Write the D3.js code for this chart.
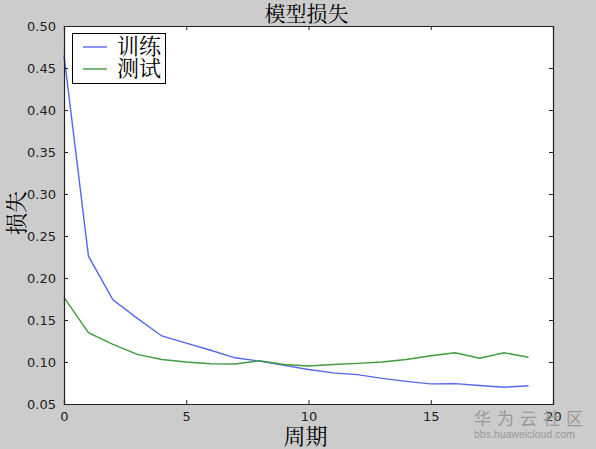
<!DOCTYPE html>
<html><head><meta charset="utf-8">
<script src="https://cdn.jsdelivr.net/npm/d3@7"></script>
<style>body{margin:0;background:#cccccc;}svg{display:block;}</style>
</head><body>
<script>
const epochs = d3.range(0, 20);
const trainLoss = [0.465, 0.226, 0.174, 0.152, 0.131, 0.1225, 0.114, 0.105, 0.101, 0.096, 0.091, 0.087, 0.085, 0.0805, 0.077, 0.074, 0.0742, 0.072, 0.070, 0.0718];
const testLoss  = [0.177, 0.135, 0.121, 0.109, 0.103, 0.100, 0.098, 0.0976, 0.1015, 0.097, 0.0952, 0.097, 0.0984, 0.100, 0.103, 0.1075, 0.111, 0.1044, 0.111, 0.1056];
const xTicks = [0, 5, 10, 15, 20];
const yTicks = [0.05, 0.10, 0.15, 0.20, 0.25, 0.30, 0.35, 0.40, 0.45, 0.50];
const seriesNames = ["训练", "测试"];
const colors = ["#5568f0", "#3f9c3f"];

const W = 596, H = 449;
const m = {left: 64, right: 596 - 553, top: 26, bottom: 449 - 404};
const svg = d3.select("body").append("svg").attr("width", W).attr("height", H);
svg.append("rect").attr("width", W).attr("height", H).attr("fill", "#cccccc");

const x = d3.scaleLinear().domain([0, 20]).range([m.left, W - m.right]);
const y = d3.scaleLinear().domain([0.05, 0.50]).range([H - m.bottom, m.top]);

svg.append("rect").attr("x", x(0)).attr("y", y(0.5)).attr("width", x(20) - x(0)).attr("height", y(0.05) - y(0.5)).attr("fill", "#fff");

const line = d3.line().x((d, i) => x(epochs[i])).y(d => y(d));
[trainLoss, testLoss].forEach((s, k) => {
  svg.append("path").datum(s).attr("d", line).attr("fill", "none").attr("stroke", colors[k]).attr("stroke-width", 1.4);
});

const font = "DejaVu Sans, sans-serif";
const tl = 4;
const gb = svg.append("g").attr("transform", `translate(0,${y(0.05)})`)
  .call(d3.axisBottom(x).tickValues(xTicks).tickFormat(d3.format("d")).tickSize(-tl).tickPadding(8));
const gt = svg.append("g").attr("transform", `translate(0,${y(0.5)})`)
  .call(d3.axisTop(x).tickValues(xTicks).tickFormat("").tickSize(-tl));
const gl = svg.append("g").attr("transform", `translate(${x(0)},0)`)
  .call(d3.axisLeft(y).tickValues(yTicks).tickFormat(d3.format(".2f")).tickSize(-tl).tickPadding(8));
const gr = svg.append("g").attr("transform", `translate(${x(20)},0)`)
  .call(d3.axisRight(y).tickValues(yTicks).tickFormat("").tickSize(-tl));
[gb, gt, gl, gr].forEach(g => {
  g.select(".domain").attr("stroke", "#222").attr("stroke-width", 1.2);
  g.selectAll(".tick line").attr("stroke", "#222");
  g.selectAll("text").attr("font-family", font).attr("font-size", 13).attr("fill", "#222");
});

const cjk = "Noto Serif CJK SC, Noto Sans CJK SC, serif";
svg.append("text").attr("x", (x(0) + x(20)) / 2 - 2).attr("y", 21).attr("text-anchor", "middle")
  .attr("font-family", cjk).attr("font-size", 21).attr("fill", "#000").text("模型损失");
svg.append("text").attr("x", (x(0) + x(20)) / 2 - 3).attr("y", 444).attr("text-anchor", "middle")
  .attr("font-family", cjk).attr("font-size", 22).attr("fill", "#000").text("周期");
svg.append("text").attr("transform", `translate(24,${(y(0.05) + y(0.5)) / 2 - 2}) rotate(-90)`).attr("text-anchor", "middle")
  .attr("font-family", cjk).attr("font-size", 22).attr("fill", "#000").text("损失");

// legend
const lg = svg.append("g");
lg.append("rect").attr("x", 72.5).attr("y", 33.5).attr("width", 93).attr("height", 50)
  .attr("fill", "#fff").attr("stroke", "#000").attr("stroke-width", 1);
seriesNames.forEach((n, i) => {
  const yy = 47 + i * 22;
  lg.append("line").attr("x1", 83).attr("x2", 107).attr("y1", yy).attr("y2", yy).attr("stroke", colors[i]).attr("stroke-width", 1.4);
  lg.append("text").attr("x", 117).attr("y", yy + 7).attr("font-family", cjk).attr("font-size", 22).attr("fill", "#000").text(n);
});

// watermark
svg.append("text").attr("x", 474).attr("y", 425).attr("font-family", "Noto Sans CJK SC, sans-serif").attr("font-size", 17)
  .attr("fill", "#999").attr("letter-spacing", 6).text("华为云社区");
svg.append("text").attr("x", 474).attr("y", 438).attr("font-family", "Liberation Sans, sans-serif").attr("font-size", 10.5)
  .attr("fill", "#999").text("bbs.huaweicloud.com");
</script>
</body></html>
